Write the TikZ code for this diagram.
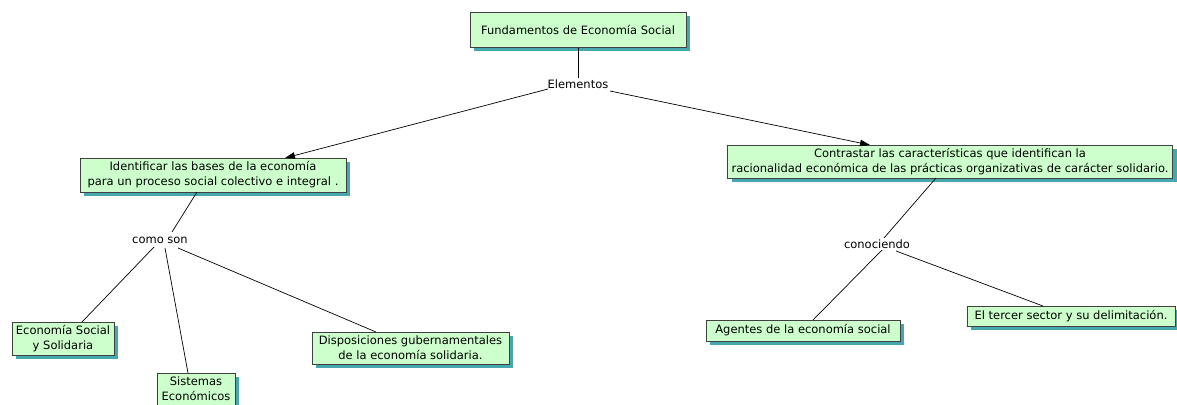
\documentclass[tikz,border=0pt]{standalone}
\usepackage{fontspec}
\setmainfont{DejaVu Sans}
\usetikzlibrary{shadows,arrows.meta}
\definecolor{boxfill}{HTML}{CCFFCC}
\definecolor{boxline}{HTML}{404040}
\definecolor{shadowc}{HTML}{45A8AE}
\tikzset{
  cbox/.style={draw=boxline, line width=1pt, fill=boxfill, align=center, inner sep=0pt,
    font=\fontsize{11.5}{15}\selectfont,
    drop shadow={shadow xshift=4pt, shadow yshift=-4pt, fill=shadowc, opacity=1}},
  lbl/.style={inner sep=1pt, font=\fontsize{11.5}{14}\selectfont},
  conn/.style={draw=black, line width=0.7pt},
  arr/.style={conn, -{Triangle[length=10pt,width=6.5pt]}}
}
\begin{document}
\begin{tikzpicture}[x=1pt,y=-1pt]
\useasboundingbox (0,0) rectangle (1177,404);
\node[cbox, minimum width=216pt, minimum height=35pt] (top) at (578,30) {Fundamentos de Economía Social};
\node[lbl] (elem) at (578,84) {Elementos};
\node[cbox, minimum width=266pt, minimum height=34pt] (left) at (213,175) {Identificar las bases de la economía\\para un proceso social colectivo e integral .};
\node[cbox, minimum width=445pt, minimum height=33pt] (right) at (950,161.5) {Contrastar las características que identifican la\\racionalidad económica de las prácticas organizativas de carácter solidario.};
\node[lbl] (como) at (160,240) {como son};
\node[cbox, minimum width=102pt, minimum height=33pt] (ess) at (63,338.5) {Economía Social\\y Solidaria};
\node[cbox, minimum width=78pt, minimum height=32pt] (sis) at (196,389) {Sistemas\\Económicos};
\node[cbox, minimum width=197pt, minimum height=32pt] (dis) at (410.5,348) {Disposiciones gubernamentales\\de la economía solidaria.};
\node[lbl] (cono) at (877,244) {conociendo};
\node[cbox, minimum width=194pt, minimum height=21pt] (age) at (803,330.5) {Agentes de la economía social};
\node[cbox, minimum width=208pt, minimum height=20pt] (ter) at (1071,316) {El tercer sector y su delimitación.};
% connector end points
\coordinate (elemL) at (548,89);
\coordinate (elemR) at (610,91);
\coordinate (leftT) at (285,158);
\coordinate (rightT) at (870,145);
\coordinate (leftB) at (197,192);
\coordinate (comoT) at (172,232);
\coordinate (comoA) at (154,247);
\coordinate (comoB) at (165,248);
\coordinate (comoC) at (178,248);
\coordinate (essT) at (82,322);
\coordinate (sisT) at (188,373);
\coordinate (disT) at (376,332);
\coordinate (rightB) at (936,178);
\coordinate (conoT) at (884,238);
\coordinate (conoA) at (882,250);
\coordinate (conoB) at (896,251);
\coordinate (ageT) at (813,320);
\coordinate (terT) at (1043,306);
\draw[conn] (top.south) -- (elem.north);
\draw[arr] (elemL) -- (leftT);
\draw[arr] (elemR) -- (rightT);
\draw[conn] (leftB) -- (comoT);
\draw[conn] (comoA) -- (essT);
\draw[conn] (comoB) -- (sisT);
\draw[conn] (comoC) -- (disT);
\draw[conn] (rightB) -- (conoT);
\draw[conn] (conoA) -- (ageT);
\draw[conn] (conoB) -- (terT);
\end{tikzpicture}
\end{document}
